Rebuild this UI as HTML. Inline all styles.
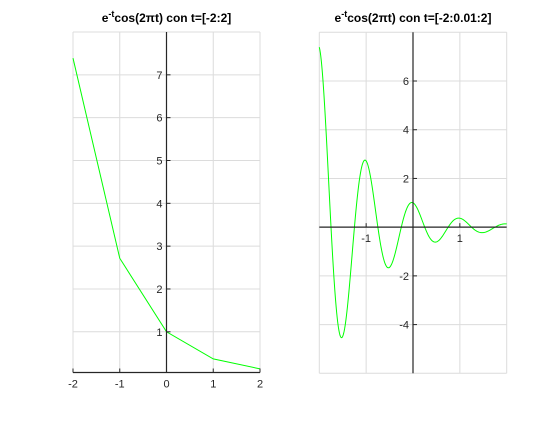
<!DOCTYPE html>
<html><head><meta charset="utf-8"><style>
body{margin:0;background:#fff;}
svg text{font-family:"Liberation Sans",sans-serif;}
</style></head><body>
<svg id="fig" width="560" height="420" xmlns="http://www.w3.org/2000/svg">
<rect width="560" height="420" fill="#fff"/>
</svg>
<script>
// Left subplot data
const leftT = [-2, -1, 0, 1, 2];
const leftY = [7.389, 2.718, 1.0, 0.368, 0.135];
const leftXTicks = [-2, -1, 0, 1, 2];
const leftYTicks = [1, 2, 3, 4, 5, 6, 7];
// Right subplot data
const rightTStart = -2, rightTEnd = 2, rightTStep = 0.01;
const rightXTicks = [-1, 1];
const rightYTicks = [-4, -2, 2, 4, 6];
const rightXGrid = [-2, -1, 0, 1, 2];
const rightYGrid = [-6, -4, -2, 0, 2, 4, 6, 8];

const NS = "http://www.w3.org/2000/svg";
const svg = document.getElementById('fig');
function mk(tag, attrs, parent){const e=document.createElementNS(NS,tag);for(const k in attrs)e.setAttribute(k,attrs[k]);(parent||svg).appendChild(e);return e;}

function axes(cfg){
  const g = mk('g',{});
  
  
  const sx = v => cfg.x0 + (v - cfg.xmin)/(cfg.xmax-cfg.xmin)*(cfg.x1-cfg.x0);
  const sy = v => cfg.y1 - (v - cfg.ymin)/(cfg.ymax-cfg.ymin)*(cfg.y1-cfg.y0);
  cfg.xGrid.forEach(v=>{const l=mk('line',{x1:sx(v),x2:sx(v),y1:cfg.y0,y2:cfg.y1,stroke:'#dcdcdc','stroke-width':1},g);
    });
  cfg.yGrid.forEach(v=>{const l=mk('line',{x1:cfg.x0,x2:cfg.x1,y1:sy(v),y2:sy(v),stroke:'#dcdcdc','stroke-width':1},g);
    });
  const d = cfg.xs.map((v,i)=>(i?'L':'M')+sx(v).toFixed(2)+' '+sy(cfg.ys[i]).toFixed(2)).join(' ');
  const p = mk('path',{d:d,fill:'none',stroke:'#00ff00','stroke-width':1},g);
  
  
  const xa = sy(cfg.xAxisAt), ya = sx(0);
  const xl = mk('line',{x1:cfg.x0,x2:cfg.x1,y1:xa,y2:xa,stroke:'#262626','stroke-width':1.2},g);
  
  const yl = mk('line',{x1:ya,x2:ya,y1:cfg.y0,y2:cfg.y1,stroke:'#262626','stroke-width':1.2},g);
  
  cfg.xTicks.forEach(v=>{
    mk('line',{x1:sx(v),x2:sx(v),y1:xa,y2:xa-4,stroke:'#262626'},g);
    const t=mk('text',{x:sx(v),y:xa+15,'font-size':11,fill:'#262626','text-anchor':'middle'},g);
    t.textContent=v;
    
  });
  cfg.yTicks.forEach(v=>{
    mk('line',{x1:ya,x2:ya+4,y1:sy(v),y2:sy(v),stroke:'#262626'},g);
    const t=mk('text',{x:ya-4,y:sy(v)+4,'font-size':11,fill:'#262626','text-anchor':'end'},g);
    t.textContent=v;
    
  });
  const tt = mk('text',{x:(cfg.x0+cfg.x1)/2,y:22,'font-size':12,'font-weight':'bold',fill:'#000','text-anchor':'middle'},g);
  
  tt.innerHTML = 'e<tspan dy="-5" font-size="9">-t</tspan><tspan dy="5">cos(2πt) con t=' + cfg.tlabel + '</tspan>';
}

axes({name:'left-plot',x0:73,x1:260,y0:32,y1:372.5,xmin:-2,xmax:2,ymin:0.05,ymax:8,
  xGrid:leftXTicks,yGrid:leftYTicks.concat([8]),xs:leftT,ys:leftY,xAxisAt:0.05,
  xTicks:leftXTicks,yTicks:leftYTicks,tlabel:'[-2:2]'});

const rT=[],rY=[];
for(let i=0;i<=Math.round((rightTEnd-rightTStart)/rightTStep);i++){const t=rightTStart+i*rightTStep;rT.push(t);rY.push(Math.exp(-t)*Math.cos(2*Math.PI*t));}
axes({name:'right-plot',x0:319.3,x1:506.7,y0:32.3,y1:373.3,xmin:-2,xmax:2,ymin:-6,ymax:8,
  xGrid:rightXGrid,yGrid:rightYGrid,xs:rT,ys:rY,xAxisAt:0,
  xTicks:rightXTicks,yTicks:rightYTicks,tlabel:'[-2:0.01:2]'});
</script>
</body></html>
